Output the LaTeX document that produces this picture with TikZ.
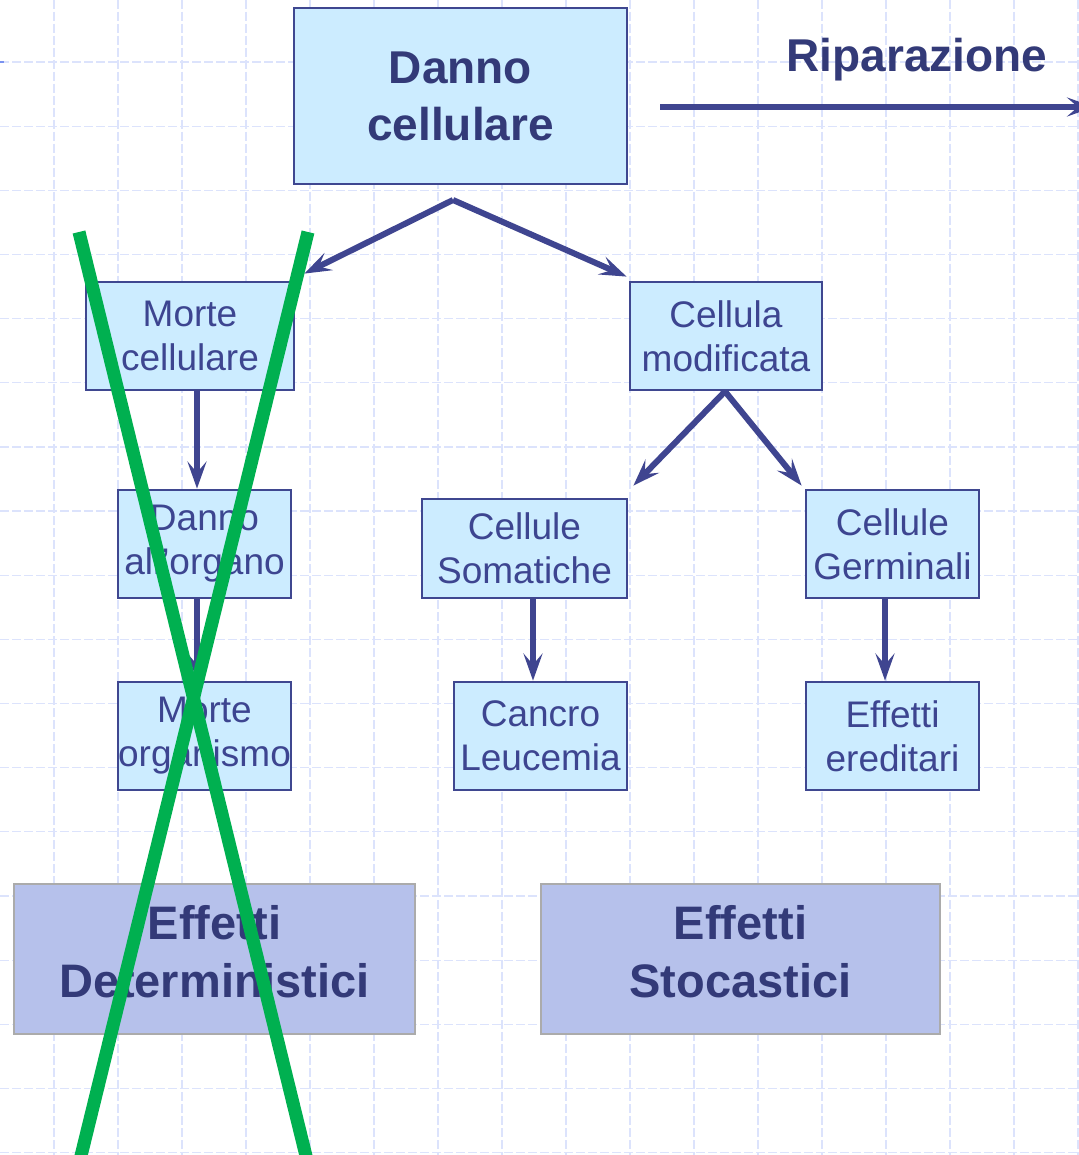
\documentclass[tikz,border=0pt]{standalone}
\usepackage{fontspec}
\setmainfont{Liberation Sans}
\usetikzlibrary{arrows.meta}

\definecolor{gridblue}{HTML}{DCE3FC}
\definecolor{gridtick}{HTML}{7A92F0}
\definecolor{boxfill}{HTML}{CCECFF}
\definecolor{boxline}{HTML}{3F4790}
\definecolor{inkbold}{HTML}{333A78}
\definecolor{inktext}{HTML}{3D4590}
\definecolor{arrowink}{HTML}{3F4590}
\definecolor{effill}{HTML}{B6C1EB}
\definecolor{efline}{HTML}{ABABAB}
\definecolor{crossgreen}{HTML}{00B050}

\begin{document}
\begin{tikzpicture}[x=1pt,y=-1pt,
  gridline/.style={draw=gridblue, line width=1.2pt, dash pattern=on 9pt off 3pt},
  smallbox/.style={draw=boxline, line width=2.8pt, fill=boxfill, text=inktext,
    inner sep=0pt, align=center, font=\fontsize{37}{44}\selectfont},
  topbox/.style={draw=boxline, line width=2.8pt, fill=boxfill, text=inkbold,
    inner sep=0pt, align=center, font=\fontsize{46}{57}\selectfont\bfseries},
  effbox/.style={draw=efline, line width=2.2pt, fill=effill, inner sep=0pt},
  efftext/.style={text=inkbold, inner sep=0pt, align=center,
    font=\fontsize{47}{58}\selectfont\bfseries},
  flow/.style={draw=arrowink, line width=6pt,
    -{Stealth[length=27pt, width=19pt, inset=11pt]}},
  cross/.style={draw=crossgreen, line width=13pt}
]
\useasboundingbox (0,0) rectangle (1078,1155);
\fill[white] (0,0) rectangle (1078,1155);

% background grid
\foreach \k in {0,...,16}
  \draw[gridline] (54+64*\k,0) -- (54+64*\k,1155);
\foreach \k in {0,...,17}
  \draw[gridline] (0,62+64.15*\k) -- (1078,62+64.15*\k);
\draw[gridtick, line width=1.5pt] (0,62) -- (4,62);

% boxes
\node[topbox, minimum width=333pt, minimum height=176pt] (dc) at (460.5,96) {Danno\\cellulare};
\node[smallbox, minimum width=208pt, minimum height=108pt] (mc) at (190,336) {Morte\\cellulare};
\node[smallbox, minimum width=192pt, minimum height=108pt] (cm) at (726,336) {Cellula\\modificata};
\node[smallbox, minimum width=173pt, minimum height=108pt] (dao) at (204.5,544) {Danno\\all'organo};
\node[smallbox, minimum width=205pt, minimum height=99pt] (cs) at (524.5,548.5) {Cellule\\Somatiche};
\node[smallbox, minimum width=173pt, minimum height=108pt] (cg) at (892.5,544) {Cellule\\Germinali};
\node[smallbox, minimum width=173pt, minimum height=108pt] (mo) at (204.5,736) {Morte\\organismo};
\node[smallbox, minimum width=173pt, minimum height=108pt] (cl) at (540.5,736) {Cancro\\Leucemia};
\node[smallbox, minimum width=173pt, minimum height=108pt] (ee) at (892.5,736) {Effetti\\ereditari};

% summary boxes, text set a little above centre
\node[effbox, minimum width=401pt, minimum height=150pt] (ed) at (214.5,959) {};
\node[efftext] (edt) at (214.5,952) {Effetti\\Deterministici};
\node[effbox, minimum width=399pt, minimum height=150pt] (es) at (740.5,959) {};
\node[efftext] (est) at (740.5,952) {Effetti\\Stocastici};

% repair branch
\node[anchor=base, text=inkbold, font=\fontsize{46}{55}\selectfont\bfseries] (rip) at (917,72) {Riparazione};
\coordinate (ripA) at (660,107);
\coordinate (ripB) at (1094,107);
\draw[flow] (ripA) -- (ripB);

% connectors
\coordinate (fork) at (453,200);
\draw[flow] (fork) -- ([xshift=9pt,yshift=7pt]mc.north east);
\draw[flow] (fork) -- ([xshift=-2pt,yshift=4pt]cm.north west);
\draw[flow] ([xshift=7pt]mc.south) -- ([xshift=7pt]mc.south |- dao.north);
\draw[flow] ([xshift=-7.5pt]dao.south) -- ([xshift=-7.5pt]dao.south |- mo.north);
\draw[flow] ([xshift=-1pt]cm.south) -- ([xshift=5pt,yshift=12pt]cs.north east);
\draw[flow] ([xshift=-1pt]cm.south) -- ([xshift=-3pt,yshift=3pt]cg.north west);
\draw[flow] ([xshift=8.5pt]cs.south) -- ([xshift=8.5pt]cs.south |- cl.north);
\draw[flow] ([xshift=-7.5pt]cg.south) -- ([xshift=-7.5pt]cg.south |- ee.north);

% crossing-out of the deterministic branch
\coordinate (xa1) at (79,232);
\coordinate (xa2) at (307,1160);
\coordinate (xb1) at (308,232);
\coordinate (xb2) at (80,1160);
\draw[cross] (xa1) -- (xa2);
\draw[cross] (xb1) -- (xb2);
\end{tikzpicture}
\end{document}
